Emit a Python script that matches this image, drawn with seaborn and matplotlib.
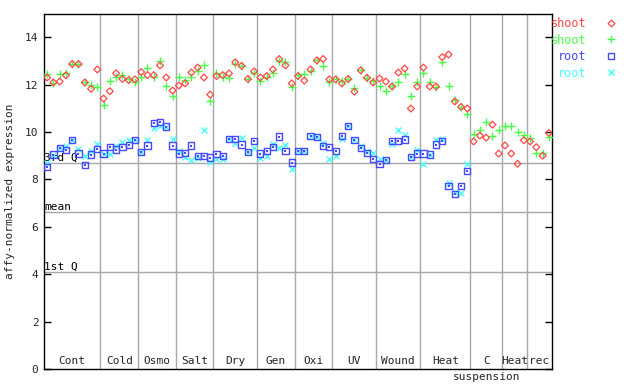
import numpy as np
import pandas as pd
import matplotlib
matplotlib.use("Agg")
import matplotlib.pyplot as plt
import seaborn as sns
from matplotlib.lines import Line2D

# ---------------- data ----------------
group_names = ["Cont", "Cold", "Osmo", "Salt", "Dry", "Gen", "Oxi", "UV",
               "Wound", "Heat", "C", "Heat", "rec"]
group_sizes = [9, 6, 6, 6, 7, 6, 6, 7, 7, 8, 5, 4, 4]

shoot_rep1 = [12.30, 12.09, 12.13, 12.39, 12.87, 12.87, 12.09, 11.82, 12.64,
              11.41, 11.72, 12.48, 12.24, 12.19, 12.22,
              12.53, 12.40, 12.40, 12.81, 12.30, 11.75,
              11.96, 12.05, 12.51, 12.72, 12.30, 11.58,
              12.36, 12.40, 12.47, 12.94, 12.79, 12.24, 12.56,
              12.30, 12.36, 12.64, 13.08, 12.81, 12.05,
              12.36, 12.17, 12.64, 13.02, 13.08, 12.22,
              12.22, 12.05, 12.24, 11.70, 12.60, 12.29, 12.09,
              12.26, 12.13, 11.92, 12.51, 12.68, 10.99, 11.92,
              12.72, 11.92, 11.92, 13.16, 13.27, 11.29, 11.06, 10.99,
              9.60, 9.85, 9.76, 10.31, 9.09,
              9.43, 9.09, 8.66, 9.65,
              9.60, 9.36, 9.00, 9.96]
shoot_rep2 = [12.44, 12.05, 12.44, 12.47, 12.89, 12.89, 12.13, 11.98, 11.88,
              11.12, 12.16, 12.33, 12.41, 12.22, 12.13,
              12.30, 12.72, 12.33, 12.99, 11.96, 11.51,
              12.30, 12.19, 12.30, 12.56, 12.81, 11.29,
              12.47, 12.30, 12.26, 12.89, 12.79, 12.24, 12.48,
              12.17, 12.32, 12.50, 13.01, 12.95, 11.91,
              12.39, 12.44, 12.58, 13.02, 12.77, 12.09,
              12.24, 12.17, 12.24, 11.84, 12.60, 12.29, 12.17,
              11.96, 11.71, 11.92, 12.09, 12.44, 11.54, 12.09,
              12.51, 12.13, 11.88, 12.94, 11.96, 11.33, 11.06, 10.78,
              9.93, 10.10, 10.41, 9.85, 10.10,
              10.24, 10.24, 9.99, 9.89,
              9.76, 9.13, 9.13, 9.79]
root_rep1 = [8.51, 9.05, 9.33, 9.23, 9.65, 9.09, 8.62, 9.05, 9.27,
             9.09, 9.38, 9.26, 9.38, 9.44, 9.67,
             9.16, 9.43, 10.37, 10.41, 10.23, 9.43,
             9.09, 9.13, 9.43, 9.00, 9.00, 8.92,
             9.07, 8.98, 9.71, 9.72, 9.47, 9.16, 9.61,
             9.09, 9.21, 9.38, 9.81, 9.19, 8.71,
             9.21, 9.20, 9.82, 9.79, 9.40, 9.38,
             9.21, 9.84, 10.26, 9.67, 9.34, 9.10, 8.85,
             8.65, 8.83, 9.61, 9.61, 9.68, 8.93, 9.09,
             9.09, 9.05, 9.47, 9.61, 7.72, 7.37, 7.73, 8.37]
root_rep2 = [8.69, 9.05, 9.33, 9.40, 9.65, 9.29, 9.00, 9.19, 9.51,
             9.09, 9.09, 9.40, 9.58, 9.68, 9.67,
             9.16, 9.68, 10.16, 10.27, 10.23, 9.72,
             9.19, 8.95, 8.83, 8.89, 10.10, 8.75,
             8.85, 8.88, 9.71, 9.54, 9.74, 9.16, 9.34,
             8.92, 8.99, 9.48, 9.34, 9.47, 8.45,
             9.21, 9.20, 9.82, 9.79, 9.54, 8.88,
             9.00, 9.72, 10.26, 9.67, 9.43, 9.20, 9.12,
             8.85, 8.83, 9.48, 10.10, 9.89, 8.93, 9.26,
             8.66, 9.05, 9.68, 9.71, 7.85, 7.45, 7.43, 8.66]

quartile_labels = ["1st Q", "mean", "3rd Q"]
quartile_values = [4.08, 6.61, 8.68]
yticks = [0, 2, 4, 6, 8, 10, 12, 14]

series_labels = ["shoot", "shoot", "root", "root"]
series_colors = ["#ff4848", "#48ff48", "#4848ff", "#48ffff"]

# ---------------- plot ----------------
sns.set_style("white")
plt.rcParams['font.family'] = ['DejaVu Sans Mono', 'DejaVu Sans']
plt.rcParams['font.size'] = 8

fig = plt.figure(figsize=(6.4, 3.84), dpi=100)
ax = fig.add_axes([44 / 640, 15 / 384, 508 / 640, 355.5 / 384])

n = sum(group_sizes)
ax.set_xlim(-0.5, n - 0.5)
ax.set_ylim(0, 15)

grid_c = "#a8a8a8"
bounds = np.cumsum(group_sizes)
for b in bounds[:-1]:
    ax.axvline(b - 0.5, color=grid_c, lw=1, zorder=1)
for lab, v in zip(quartile_labels, quartile_values):
    ax.axhline(v, color=grid_c, lw=1, zorder=1)
    ax.text(-0.45, v + 0.02, lab, ha="left", va="bottom", fontsize=8, color="black", zorder=3)

dfs = []
for arr, key in [(shoot_rep1, "s1"), (shoot_rep2, "s2"), (root_rep1, "r1"), (root_rep2, "r2")]:
    dfs.append(pd.DataFrame({"idx": np.arange(len(arr)), "value": arr, "series": key}))
df = pd.concat(dfs, ignore_index=True)

d = df[df.series == "r2"]
sns.scatterplot(data=d, x="idx", y="value", ax=ax, marker="x", s=18,
                color=series_colors[3], linewidth=1, legend=False, zorder=4)
d = df[df.series == "r1"]
sns.scatterplot(data=d, x="idx", y="value", ax=ax, marker="s", s=20,
                facecolor="none", edgecolor=series_colors[2], linewidth=1, legend=False, zorder=5)
sns.scatterplot(data=d, x="idx", y="value", ax=ax, marker="s", s=1.2,
                color=series_colors[2], linewidth=0, legend=False, zorder=5)
d = df[df.series == "s2"]
sns.scatterplot(data=d, x="idx", y="value", ax=ax, marker="+", s=30,
                color=series_colors[1], linewidth=1, legend=False, zorder=6)
d = df[df.series == "s1"]
sns.scatterplot(data=d, x="idx", y="value", ax=ax, marker="D", s=12,
                facecolor="none", edgecolor=series_colors[0], linewidth=0.9, legend=False, zorder=7)

# group labels
start = 0
for name, size in zip(group_names, group_sizes):
    c = start + (size - 1) / 2
    ax.text(c, 0.12, name, ha="center", va="bottom", fontsize=8)
    if name == "C":
        ax.text(c, -0.12, "suspension", ha="center", va="top", fontsize=8)
    start += size

ax.set_xticks([])
ax.set_yticks(yticks)
ax.set_yticklabels([str(t) for t in yticks])
ax.tick_params(axis="y", direction="in", length=5, width=1, left=True, right=True,
               labelleft=True, pad=4, labelsize=8, color="black")
ax.set_xlabel("")
ax.set_ylabel("affy-normalized expression", fontsize=8, labelpad=7)
for sp in ax.spines.values():
    sp.set_visible(True)
    sp.set_color("black")
    sp.set_linewidth(1)

handles = [
    Line2D([], [], marker="D", ls="none", mfc="none", mec=series_colors[0], ms=3.5, mew=0.9),
    Line2D([], [], marker="+", ls="none", color=series_colors[1], ms=5.5, mew=1),
    Line2D([], [], marker="s", ls="none", mfc="none", mec=series_colors[2], ms=4.5, mew=1),
    Line2D([], [], marker="x", ls="none", color=series_colors[3], ms=4.2, mew=1),
]
leg = fig.legend(handles, series_labels, loc="upper left",
                 bbox_to_anchor=(551 / 640, 1 - 17 / 384), frameon=False,
                 markerfirst=False, handlelength=1.0, handletextpad=1.6,
                 labelspacing=0.3, borderpad=0, borderaxespad=0, fontsize=8.5)
for t, c in zip(leg.get_texts(), series_colors):
    t.set_color(c)

fig.savefig("out.png", dpi=100)
